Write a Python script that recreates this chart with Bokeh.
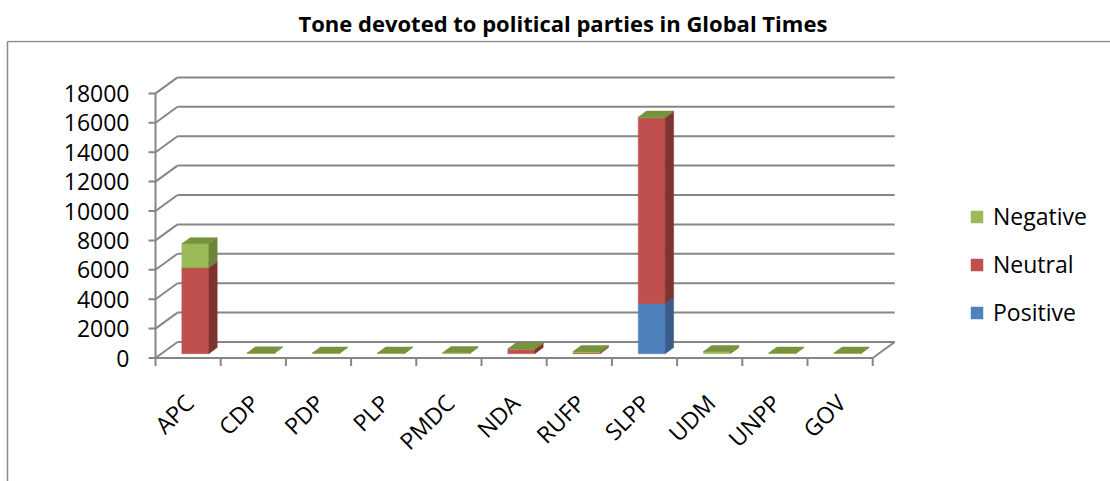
import math
from bokeh.plotting import figure
from bokeh.models import Title, Legend, LegendItem
from bokeh.core.properties import value
from bokeh.embed import file_html
from bokeh.resources import INLINE

# ---------------- data ----------------
categories = ["APC", "CDP", "PDP", "PLP", "PMDC", "NDA", "RUFP", "SLPP", "UDM", "UNPP", "GOV"]
positive = [0, 0, 0, 0, 0, 0, 0, 3400, 0, 0, 0]
neutral = [5850, 0, 0, 0, 0, 300, 50, 12650, 0, 0, 0]
negative = [1630, 50, 40, 40, 70, 30, 100, 40, 150, 40, 40]
series_names = ["Positive", "Neutral", "Negative"]
y_ticks = [0, 2000, 4000, 6000, 8000, 10000, 12000, 14000, 16000, 18000]
y_tick_labels = [str(v) for v in y_ticks]
title_text = "Tone devoted to political parties in Global Times"

# ---------------- styling / geometry ----------------
W, H = 1110, 481
TOP_PX = 40            # frame top (title panel height)
X0_PX = 155.0          # pixel of category axis start
CAT_PX = 65.2          # pixels per category
Y0_PX = 357.5          # pixel row of value 0 (front plane)
PX_PER_2000 = 29.4
DEPTH_PX = (22.0, 16.0)
F0, F1 = 0.27, 0.65    # bar front/back depth fraction
BAR_W = 0.414
FONT = "Open Sans"
GRID = "#868686"

ux = 1.0 / CAT_PX
uy = 2000.0 / PX_PER_2000

x_start = -X0_PX * ux
x_end = (W - X0_PX) * ux
y_start = -(H - Y0_PX) * uy
y_end = (Y0_PX - TOP_PX) * uy

p = figure(width=W, height=H, output_backend="svg", toolbar_location=None,
           x_range=(x_start, x_end), y_range=(y_start, y_end),
           x_axis_location=None, y_axis_location=None,
           min_border_left=0, min_border_right=0, min_border_bottom=0,
           min_border_top=TOP_PX)
p.grid.visible = False
p.outline_line_color = None
p.background_fill_color = "white"
p.border_fill_color = "white"

t = Title(text=title_text, align="left", text_font=FONT, text_font_style="bold",
          text_font_size="22px", text_color="#000000", offset=298, standoff=6)
p.add_layout(t, "above")

ddx, ddy = DEPTH_PX[0] * ux, DEPTH_PX[1] * uy
n = len(categories)

# outer chart border
p.line([(7 - X0_PX) * ux] * 2, [y_start - 1000, (Y0_PX - TOP_PX - 1) * uy], line_color="#8c8c8c", line_width=1.5)
p.line([(7 - X0_PX) * ux, x_end + 1], [(Y0_PX - TOP_PX - 1) * uy] * 2, line_color="#8c8c8c", line_width=1.5)

# back wall gridlines & left wall slants
p.segment(x0=[ddx] * len(y_ticks), y0=[v + ddy for v in y_ticks],
          x1=[n + ddx] * len(y_ticks), y1=[v + ddy for v in y_ticks],
          line_color=GRID, line_width=2)
p.segment(x0=[0] * len(y_ticks), y0=y_ticks, x1=[ddx] * len(y_ticks), y1=[v + ddy for v in y_ticks],
          line_color=GRID, line_width=2)
# floor front edge + right slant
p.segment(x0=[0, n], y0=[0, 0], x1=[n, n + ddx], y1=[0, ddy], line_color=GRID, line_width=2)
# y axis line and ticks
p.segment(x0=[0], y0=[0], x1=[0], y1=[y_ticks[-1]], line_color=GRID, line_width=2)
p.segment(x0=[-7 * ux] * len(y_ticks), y0=y_ticks, x1=[0] * len(y_ticks), y1=y_ticks,
          line_color=GRID, line_width=2)
# x ticks at category boundaries
p.segment(x0=list(range(n + 1)), y0=[0] * (n + 1), x1=list(range(n + 1)), y1=[-8 * uy] * (n + 1),
          line_color=GRID, line_width=2)

# y tick labels
p.text(x=[-26 * ux] * len(y_ticks), y=y_ticks, text=y_tick_labels, text_align="right",
       text_baseline="middle", text_font=value(FONT), text_font_size="23px", text_color="#000000")
# x category labels
p.text(x=[i + 0.5 + 1 * ux for i in range(n)], y=[-(398 - Y0_PX) * uy] * n, text=categories,
       angle=math.pi / 4, text_align="right", text_baseline="middle",
       text_font=value(FONT), text_font_size="23px", text_color="#000000")

# ---------------- 3D stacked bars ----------------
colors = {
    "Positive": ("#4F81BD", "#385D8A", "#6A95C9"),
    "Neutral": ("#C0504D", "#7E3331", "#A4423F"),
    "Negative": ("#9BBB59", "#6B8638", "#77933C"),
}
vals = {"Positive": positive, "Neutral": neutral, "Negative": negative}
fx, fy = F0 * ddx, F0 * ddy
bx, by = F1 * ddx, F1 * ddy
cum = [0.0] * n
front_renderers = {}
for name in series_names:
    v = vals[name]
    L, R, B, T = [], [], [], []
    sx, sy, tx, ty = [], [], [], []
    for i in range(n):
        if v[i] <= 0:
            continue
        b = cum[i]
        tp = b + v[i]
        xl = i + 0.5 - BAR_W / 2 + 0.02
        xr = xl + BAR_W
        L.append(xl + fx); R.append(xr + fx); B.append(b + fy); T.append(tp + fy)
        sx.append([xr + fx, xr + bx, xr + bx, xr + fx]); sy.append([b + fy, b + by, tp + by, tp + fy])
        tx.append([xl + fx, xr + fx, xr + bx, xl + bx]); ty.append([tp + fy, tp + fy, tp + by, tp + by])
    for i in range(n):
        cum[i] += v[i]
    cf, cs, ct = colors[name]
    front_renderers[name] = p.quad(left=L, right=R, bottom=B, top=T, fill_color=cf, line_color=cf, line_width=0.5)
    p.patches(xs=sx, ys=sy, fill_color=cs, line_color=cs, line_width=0.5)
    p.patches(xs=tx, ys=ty, fill_color=ct, line_color=ct, line_width=0.5)

# ---------------- legend ----------------
legend = Legend(items=[LegendItem(label=nm, renderers=[front_renderers[nm]]) for nm in reversed(series_names)],
                location=(969, 441 - 288), orientation="vertical",
                glyph_width=15, glyph_height=15, label_standoff=9, spacing=16, padding=0, margin=0,
                label_text_font=FONT, label_text_font_size="23px", label_text_color="#000000",
                border_line_alpha=0, background_fill_alpha=0)
p.add_layout(legend, "center")

open("out.html", "w").write(file_html(p, INLINE))
